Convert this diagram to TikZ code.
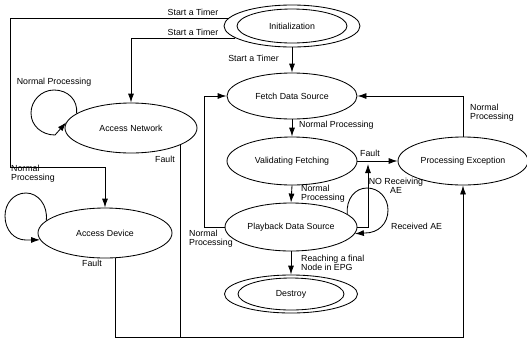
\documentclass[tikz,border=0pt]{standalone}
\usepackage{fontspec}
\setmainfont{Liberation Sans}
\usetikzlibrary{shapes.geometric,arrows.meta,calc}
\begin{document}
\begin{tikzpicture}[x=1pt,y=-1pt,
  st/.style={draw,ellipse,inner sep=0pt,line width=0.85pt},
  arr/.style={-{Latex[length=9pt,width=6pt]},line width=0.85pt},
  ln/.style={line width=0.85pt},
  lbl/.style={inner sep=0pt,align=left},
  every node/.append style={font=\fontsize{8.8}{9}\selectfont}]
\useasboundingbox (0,0) rectangle (527,341);
% states
\node[st,minimum width=136pt,minimum height=42pt] (init) at (292,26) {Initialization};
\draw[ln] (init.center) ellipse [x radius=55pt, y radius=17pt];
\node[st,minimum width=130pt,minimum height=46pt] (fetch) at (292,96) {Fetch Data Source};
\node[st,minimum width=130pt,minimum height=48pt] (valid) at (292,161) {Validating Fetching};
\node[st,minimum width=132pt,minimum height=48pt] (play) at (291,227) {Playback Data Source};
\node[st,minimum width=133pt,minimum height=38pt] (destroy) at (291,294) {Destroy};
\draw[ln] (destroy.center) ellipse [x radius=53pt, y radius=16pt];
\node[st,minimum width=130pt,minimum height=48pt] (pe) at (463,161) {Processing Exception};
\node[st,minimum width=132pt,minimum height=50pt] (anet) at (131,128) {Access Network};
\node[st,minimum width=134pt,minimum height=50pt] (adev) at (105,233) {Access Device};
% helper coordinates
\coordinate (k1) at (10,167);
\coordinate (bot) at (0,337);
\coordinate (k3) at (368,164);
% connectors
\draw[arr] (init.173) -| (k1) -| (adev.north);
\draw[arr] (init.192) -| (anet.north);
\draw[arr] (init.south) -- (fetch.north);
\draw[arr] (fetch.south) -- (valid.north);
\draw[arr] (valid.south) -- (play.north);
\draw[arr] (play.south) -- (destroy.north);
\draw[arr] (valid.east) -- (pe.west);
\draw[arr] (pe.north) |- (fetch.east);
\draw[arr] (play.west) -- ++(-20,0) |- (fetch.west);
\draw[arr] (play.east) -| (k3);
\draw[arr] (play.13) .. controls (346,199) and (355,188) .. (367,188)
  .. controls (379,188) and (388,198) .. (388,210)
  .. controls (388,224) and (378,233) .. (365,233) -- (play.-6);
\draw[arr] (anet.165) .. controls (78,100) and (68,90) .. (54,90)
  .. controls (41,90) and (31,101) .. (31,113)
  .. controls (31,126) and (42,135) .. (55,135) -- (anet.175);
\draw[arr] (adev.168) .. controls (48,205) and (38,193) .. (26,193)
  .. controls (14,193) and (5,203) .. (5,216)
  .. controls (5,230) and (14,240) .. (26,240) -- (adev.186);
\draw[ln] (adev.-68) -- (adev.-68 |- bot) -- (anet.-19 |- bot);
\draw[arr] (anet.-19) -- (anet.-19 |- bot) -| (pe.south);
% labels
\node[lbl] (t1) at (193,12) {Start a Timer};
\node[lbl] (t2) at (193,32) {Start a Timer};
\node[lbl,anchor=east] (t3) at (279,58) {Start a Timer};
\node[lbl,anchor=west] (np1) at (299,125) {Normal Processing};
\node[lbl,anchor=west] (np2) at (301,194) {Normal\\Processing};
\node[lbl,anchor=west] (reach) at (301,263) {Reaching a final\\Node in EPG};
\node[lbl] (fault1) at (370,153) {Fault};
\node[lbl,anchor=west] (np3) at (470,113) {Normal\\Processing};
\node[lbl,align=center] (nora) at (396,186) {NO Receiving\\AE};
\node[lbl,anchor=west] (recae) at (391,226) {Received AE};
\node[lbl] (np4) at (54,82) {Normal Processing};
\node[lbl,anchor=west] (np5) at (11,174) {Normal\\Processing};
\node[lbl,anchor=west] (np6) at (189,239) {Normal\\Processing};
\node[lbl] (fa) at (165,159) {Fault};
\node[lbl] (fd) at (92,263) {Fault};
\end{tikzpicture}
\end{document}
